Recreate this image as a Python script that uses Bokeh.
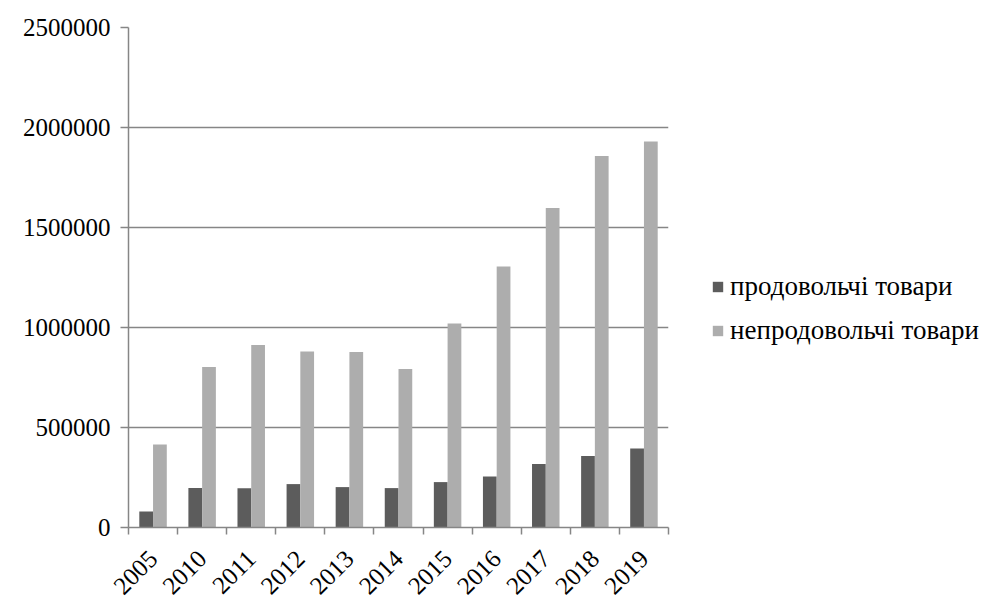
import numpy as np
from bokeh.plotting import figure
from bokeh.models import ColumnDataSource, FixedTicker, Legend, LegendItem, Range1d
from bokeh.embed import file_html
from bokeh.resources import INLINE

years = ["2005", "2010", "2011", "2012", "2013", "2014", "2015", "2016", "2017", "2018", "2019"]
food = [80000, 197000, 196000, 217000, 202000, 197000, 227000, 255000, 317000, 358000, 395000]
nonfood = [415000, 802000, 913000, 880000, 877000, 793000, 1020000, 1305000, 1597000, 1858000, 1930000]
y_ticks = [0, 500000, 1000000, 1500000, 2000000, 2500000]
series_names = ["продовольчі товари", "непродовольчі товари"]

FONT = "Liberation Serif"
AX = "#868686"
DARK = "#5c5c5c"
LIGHT = "#adadad"

n = len(years)
idx = np.arange(n)
src = ColumnDataSource(dict(
    x_food=idx + 0.5 - 0.14,
    x_nonfood=idx + 0.5 + 0.14,
    food=food,
    nonfood=nonfood,
))

p = figure(frame_width=540, frame_height=500, output_backend="svg", toolbar_location=None,
           x_range=Range1d(0, n), y_range=Range1d(0, 2500000),
           min_border_left=128, min_border_right=314, min_border_top=27, min_border_bottom=73)
p.outline_line_color = None
p.background_fill_color = "white"
p.border_fill_color = "white"

r1 = p.vbar(x="x_food", top="food", width=0.28, source=src, fill_color=DARK, line_color=None)
r2 = p.vbar(x="x_nonfood", top="nonfood", width=0.28, source=src, fill_color=LIGHT, line_color=None)

# x axis: labels at category centres, tick marks at boundaries
p.xaxis.ticker = FixedTicker(ticks=list(idx + 0.5), minor_ticks=list(range(n + 1)))
p.xaxis.major_label_overrides = {float(i + 0.5): y for i, y in enumerate(years)}
p.xaxis.major_label_orientation = np.pi / 4
p.xaxis.major_tick_out = 0
p.xaxis.major_tick_in = 0
p.xaxis.minor_tick_out = 7
p.xaxis.minor_tick_in = 0
p.xaxis.minor_tick_line_color = AX
p.xaxis.minor_tick_line_width = 1.5
p.xaxis.axis_line_color = AX
p.xaxis.axis_line_width = 1.5
p.xaxis.major_label_text_font = FONT
p.xaxis.major_label_text_font_size = "25px"
p.xaxis.major_label_text_color = "black"
p.xaxis.major_label_standoff = 20
p.xgrid.grid_line_color = None

p.yaxis.ticker = FixedTicker(ticks=y_ticks)
p.yaxis.formatter.use_scientific = False
p.yaxis.minor_tick_line_color = None
p.yaxis.major_tick_out = 8
p.yaxis.major_tick_in = 0
p.yaxis.major_tick_line_color = AX
p.yaxis.major_tick_line_width = 1.5
p.yaxis.axis_line_color = AX
p.yaxis.axis_line_width = 1.5
p.yaxis.major_label_text_font = FONT
p.yaxis.major_label_text_font_size = "25px"
p.yaxis.major_label_text_color = "black"
p.yaxis.major_label_standoff = 10
p.ygrid.ticker = FixedTicker(ticks=y_ticks)
p.ygrid.grid_line_color = AX
p.ygrid.grid_line_width = 1.5

legend = Legend(items=[LegendItem(label=series_names[0], renderers=[r1]),
                       LegendItem(label=series_names[1], renderers=[r2])],
                location=(43, 181), orientation="vertical")
legend.label_text_font = FONT
legend.label_text_font_size = "27px"
legend.label_text_color = "black"
legend.glyph_width = 13
legend.glyph_height = 13
legend.label_standoff = 6
legend.spacing = 13
legend.padding = 0
legend.margin = 0
legend.border_line_color = None
legend.background_fill_alpha = 0
p.add_layout(legend, "right")

open("out.html", "w").write(file_html(p, INLINE))
